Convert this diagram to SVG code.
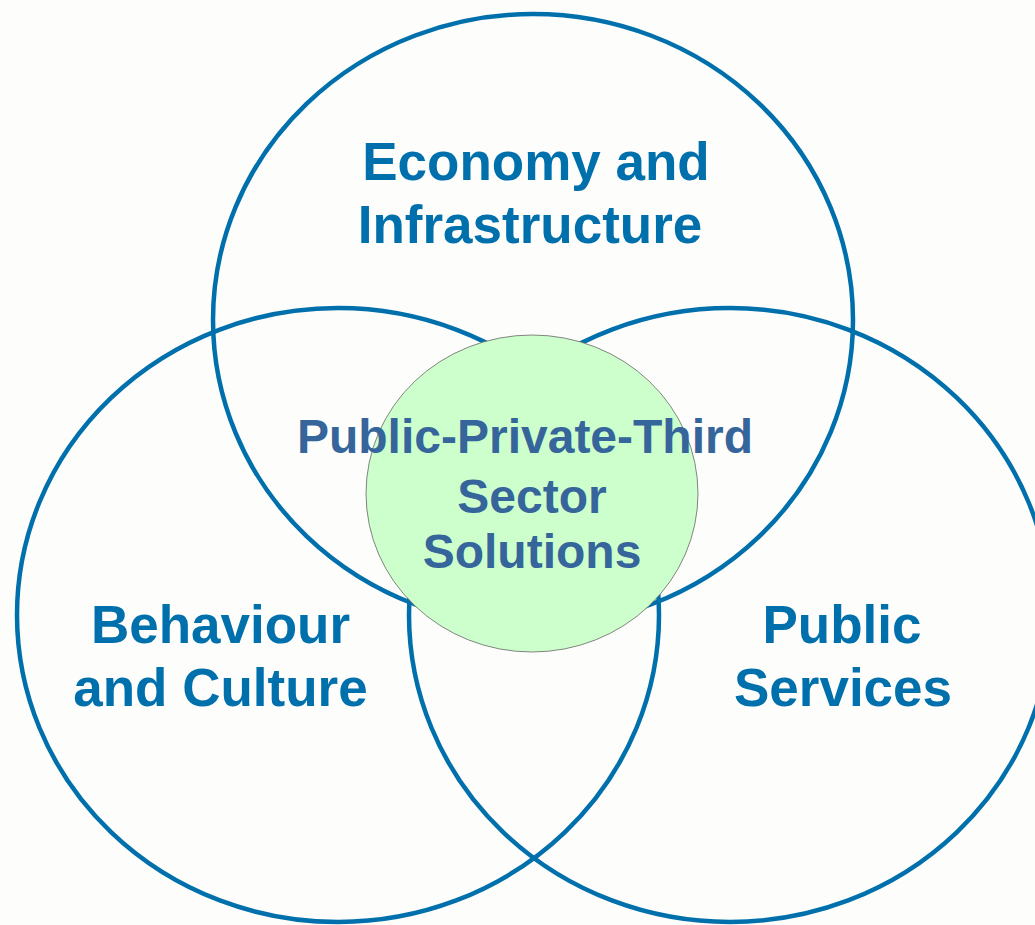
<svg xmlns="http://www.w3.org/2000/svg" width="1035" height="925" viewBox="0 0 1035 925">
<style>
.ring{fill:none;stroke:#0070ad;stroke-width:4.5}
.lbl{font-family:"Liberation Sans",Arial,sans-serif;font-weight:bold;font-size:53px;fill:#0070ad;text-anchor:middle}
.ctr{font-family:"Liberation Sans",Arial,sans-serif;font-weight:bold;font-size:48px;fill:#35659a;text-anchor:middle}
</style>
<rect width="1035" height="925" fill="#fdfdfb"/>
<g id="economy">
<ellipse class="ring" cx="533" cy="320" rx="320" ry="306"/>
</g>
<g id="behaviour">
<ellipse class="ring" cx="338" cy="615" rx="321" ry="307"/>
</g>
<g id="services">
<ellipse class="ring" cx="730" cy="615" rx="321" ry="307"/>
</g>
<g id="solutions">
<ellipse cx="532" cy="493.5" rx="166" ry="158.5" fill="#ccffcc" stroke="#666666" stroke-width="0.8"/>
</g>
<g id="labels">
<text class="lbl" x="536" y="180">Economy and</text>
<text class="lbl" x="530" y="243">Infrastructure</text>
<text class="lbl" x="220.5" y="643">Behaviour</text>
<text class="lbl" x="220.5" y="706">and Culture</text>
<text class="lbl" x="842" y="643">Public</text>
<text class="lbl" x="843" y="706">Services</text>
<text class="ctr" x="525" y="453">Public-Private-Third</text>
<text class="ctr" x="532" y="513">Sector</text>
<text class="ctr" x="532" y="568">Solutions</text>
</g>
<g id="connectors"></g>
</svg>
